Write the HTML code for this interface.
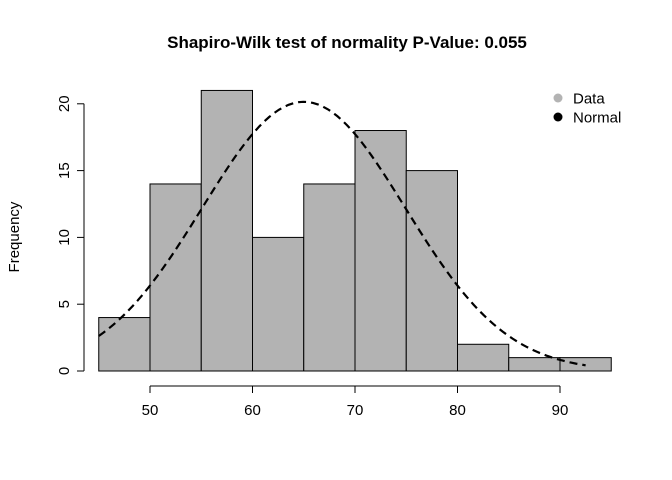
<!DOCTYPE html>
<html><head><meta charset="utf-8"><style>
html,body{margin:0;padding:0;background:#fff;}
svg{display:block;font-family:"Liberation Sans",Arial,sans-serif;}
</style></head><body>
<svg id="chart" width="672" height="480" viewBox="0 0 672 480"></svg>
<script>
const binStarts=[45,50,55,60,65,70,75,80,85,90];
const binWidth=5;
const counts=[4,14,21,10,14,18,15,2,1,1];
const xTicks=[50,60,70,80,90];
const yTicks=[0,5,10,15,20];
const normalParams=[65,9.9,100];
const curveRange=[45,92.5];
const svg=document.getElementById('chart');
const NS='http://www.w3.org/2000/svg';
const xs=v=>150+(v-50)*10.25;
const ys=v=>371-v*13.36;
function mk(t,a,p){const e=document.createElementNS(NS,t);for(const k in a)e.setAttribute(k,a[k]);(p||svg).appendChild(e);return e;}
const title=mk('text',{x:347,y:48,'text-anchor':'middle','font-size':'17','font-weight':'bold'});
title.textContent='Shapiro-Wilk test of normality P-Value: 0.055';


const bars=mk('g',{});


binStarts.forEach((b,i)=>{
 const r=mk('rect',{x:xs(b),y:ys(counts[i]),width:xs(b+binWidth)-xs(b),height:ys(0)-ys(counts[i]),fill:'#b3b3b3',stroke:'#000','stroke-width':1},bars);
 
 
});
// x axis
const xa=mk('g',{stroke:'#000','stroke-width':1});


mk('line',{x1:xs(xTicks[0]),x2:xs(xTicks[xTicks.length-1]),y1:386,y2:386},xa);
xTicks.forEach(t=>{
 mk('line',{x1:xs(t),x2:xs(t),y1:386,y2:393},xa);
 const l=mk('text',{x:xs(t),y:415,'text-anchor':'middle','font-size':'15'});
 l.textContent=t;
 
 
});
// y axis
const ya=mk('g',{stroke:'#000','stroke-width':1});


mk('line',{x1:84,x2:84,y1:ys(yTicks[0]),y2:ys(yTicks[yTicks.length-1])},ya);
yTicks.forEach(t=>{
 mk('line',{x1:77,x2:84,y1:ys(t),y2:ys(t)},ya);
 const l=mk('text',{x:0,y:0,'text-anchor':'middle','font-size':'15',transform:`translate(69,${ys(t)}) rotate(-90)`});
 l.textContent=t;
 
 
});
const yt=mk('text',{x:0,y:0,'text-anchor':'middle','font-size':'15',transform:'translate(19,237) rotate(-90)'});
yt.textContent='Frequency';


// normal curve
const [mu,sd,n]=normalParams;
let d='';
for(let i=0;i<=100;i++){
 const x=curveRange[0]+(curveRange[1]-curveRange[0])*i/100;
 const y=n*binWidth/(sd*Math.sqrt(2*Math.PI))*Math.exp(-((x-mu)**2)/(2*sd*sd));
 d+=(i?'L':'M')+xs(x).toFixed(2)+','+ys(y).toFixed(2);
}
const c=mk('path',{d:d,fill:'none',stroke:'#000','stroke-width':2.2,'stroke-dasharray':'8,5'});


// legend
const lg=mk('g',{});


[['Data','#b3b3b3',98],['Normal','#000',117]].forEach(([t,col,y])=>{
 const g=mk('g',{},lg);
 
 
 mk('circle',{cx:558,cy:y,r:4.5,fill:col},g);
 const tx=mk('text',{x:573,y:y+5.5,'font-size':'15'},g);
 tx.textContent=t;
});
</script>
</body></html>
